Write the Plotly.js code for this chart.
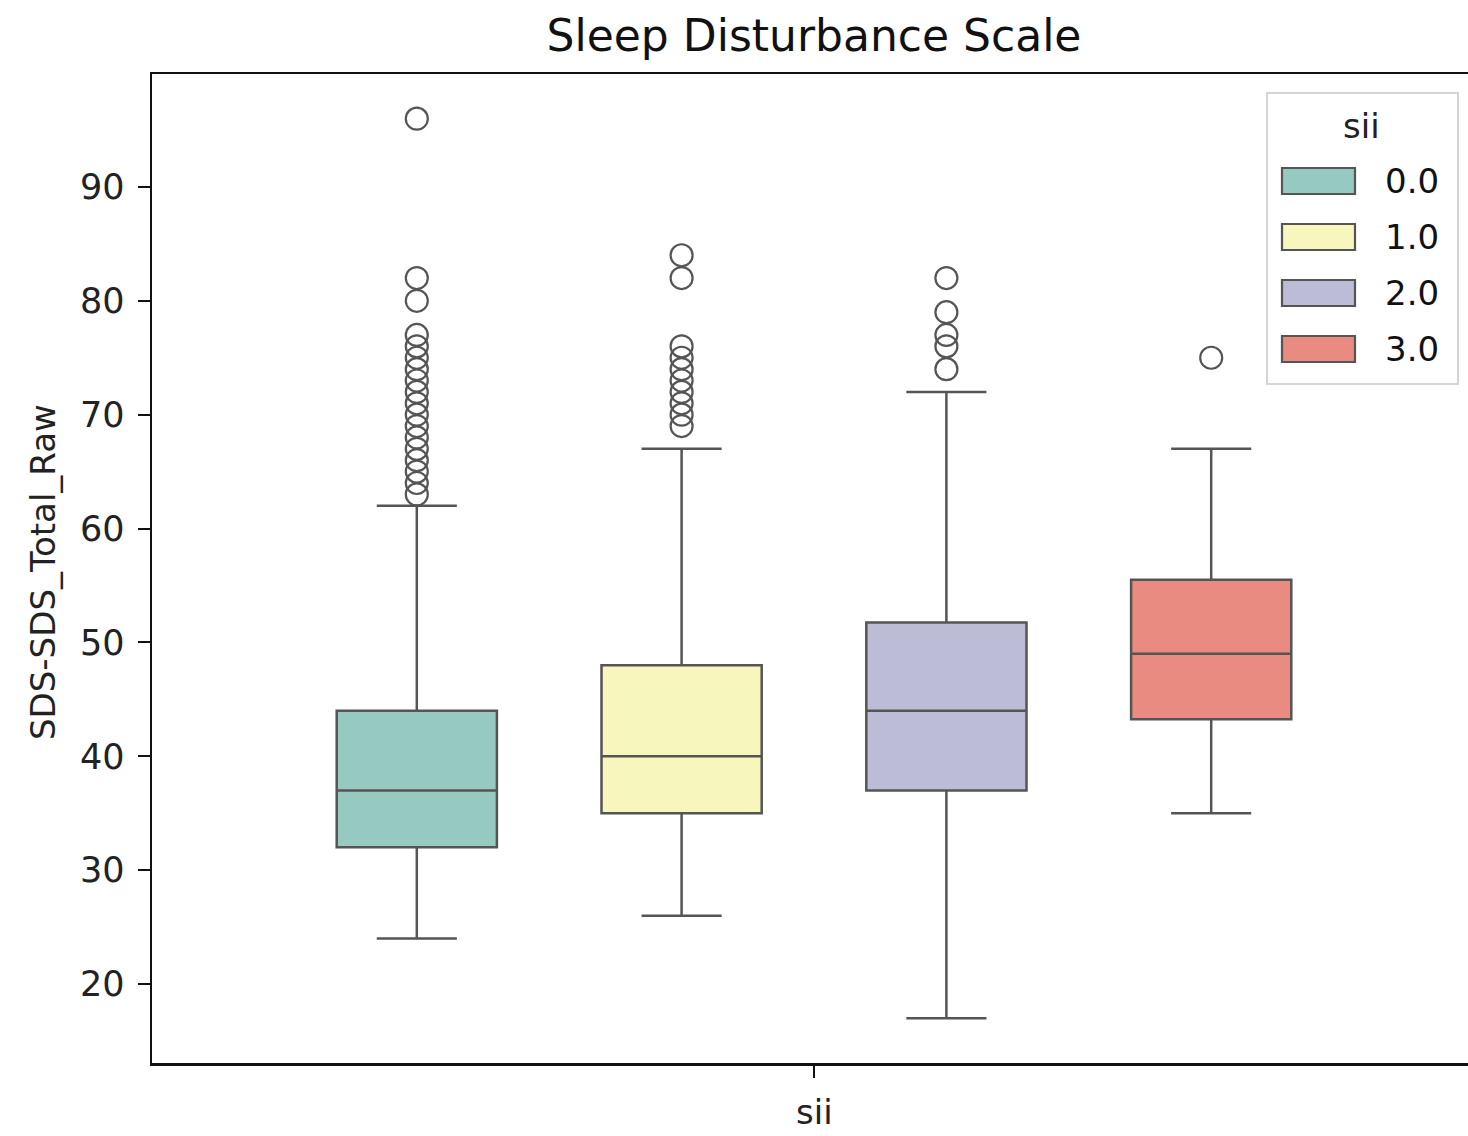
<!DOCTYPE html>
<html>
<head>
<meta charset="utf-8">
<script src="https://cdn.plot.ly/plotly-3.0.1.min.js"></script>
<style>html,body{margin:0;padding:0;background:#fff;}#chart{width:1468px;height:1136px;}</style>
</head>
<body>
<div id="chart"></div>
<script>
const hueLabels = ['0.0', '1.0', '2.0', '3.0'];
const q1Vals = [32, 35, 37, 43.25];
const medianVals = [37, 40, 44, 49];
const q3Vals = [44, 48, 51.75, 55.5];
const lowerWhisker = [24, 26, 17, 35];
const upperWhisker = [62, 67, 72, 67];
const outliers0 = [63, 64, 65, 66, 67, 68, 69, 70, 71, 72, 73, 74, 75, 76, 77, 80, 82, 96];
const outliers1 = [69, 70, 71, 72, 73, 74, 75, 76, 82, 84];
const outliers2 = [74, 76, 77, 79, 82];
const outliers3 = [75];
const outlierSets = [outliers0, outliers1, outliers2, outliers3];
const fillColors = ['#96cac1', '#f6f6bd', '#bdbcd6', '#e98b80'];

const W = 1468, H = 1136;
const L = 152, T = 74, R = 1468, B = 1063;
const px = x => (x - L) / (R - L);
const py = y => (B - y) / (B - T);

const edge = '#555555';
const nH = hueLabels.length;
const span = 0.8;
const step = span / nH;
const boxW = 0.121;
const traces = [];
hueLabels.forEach((lab, i) => {
  const pos = -span / 2 + step * (i + 0.5);
  traces.push({
    type: 'box', name: lab, x: [pos],
    q1: [q1Vals[i]], median: [medianVals[i]], q3: [q3Vals[i]],
    lowerfence: [lowerWhisker[i]], upperfence: [upperWhisker[i]],
    width: boxW, whiskerwidth: 0.5, boxpoints: false,
    fillcolor: fillColors[i], line: {color: edge, width: 2.5},
    hoverinfo: 'y', showlegend: false
  });
});
outlierSets.forEach((vals, i) => {
  const pos = -span / 2 + step * (i + 0.5);
  traces.push({
    type: 'scatter', mode: 'markers', x: vals.map(() => pos), y: vals,
    marker: {symbol: 'circle-open', size: 22, color: edge, line: {width: 2.2}},
    showlegend: false, hoverinfo: 'y'
  });
});

const fam = 'DejaVu Sans, sans-serif';
// custom legend (matplotlib-style wide patches)
const shapes = [{
  type: 'rect', xref: 'paper', yref: 'paper', x0: px(1267), x1: px(1458), y0: py(384), y1: py(93),
  line: {color: '#d4d4d4', width: 2}, fillcolor: 'rgba(255,255,255,0.85)', layer: 'above'
}];
const annotations = [{
  xref: 'paper', yref: 'paper', x: px(1361), y: py(126), text: 'sii', showarrow: false,
  xanchor: 'center', yanchor: 'middle', font: {size: 34, family: fam, color: '#222'}
}];
hueLabels.forEach((lab, i) => {
  const cy = 181 + 56 * i;
  shapes.push({
    type: 'rect', xref: 'paper', yref: 'paper', x0: px(1282), x1: px(1355), y0: py(cy + 13), y1: py(cy - 13),
    line: {color: edge, width: 2.2}, fillcolor: fillColors[i], layer: 'above'
  });
  annotations.push({
    xref: 'paper', yref: 'paper', x: px(1383), y: py(cy), text: lab, showarrow: false,
    xanchor: 'left', yanchor: 'middle', font: {size: 34, family: fam, color: '#111'}
  });
});
// axis titles
annotations.push({
  xref: 'x', yref: 'paper', x: 0, y: py(1112), text: 'sii', showarrow: false, borderpad: 0,
  xanchor: 'center', yanchor: 'middle', font: {size: 34, family: fam, color: '#222'}
});
annotations.push({
  xref: 'paper', yref: 'paper', x: px(43), y: py(572), text: 'SDS-SDS_Total_Raw', showarrow: false,
  textangle: -90, xanchor: 'center', yanchor: 'middle', font: {size: 34, family: fam, color: '#222'}
});

const layout = {
  width: W, height: H,
  margin: {l: L, r: W - R, t: T, b: H - B},
  paper_bgcolor: '#fff', plot_bgcolor: '#fff',
  font: {size: 30, family: fam, color: '#000'},
  title: {text: 'Sleep Disturbance Scale', font: {size: 44, family: fam, color: '#111'},
          x: 814 / W, xref: 'container', xanchor: 'center', y: 1 - 36 / H, yref: 'container', yanchor: 'middle'},
  boxmode: 'overlay',
  showlegend: false,
  shapes: shapes,
  annotations: annotations,
  xaxis: {
    range: [-0.5, -0.5 + (R - L) / 1324], tickvals: [0], ticktext: [''],
    showgrid: false, zeroline: false, showline: true, linecolor: '#111', linewidth: 2.5, mirror: true,
    ticks: 'outside', ticklen: 12, tickwidth: 2, tickcolor: '#111'
  },
  yaxis: {
    range: [13.06, 99.92], tickvals: [20, 30, 40, 50, 60, 70, 80, 90],
    showgrid: false, zeroline: false, showline: true, linecolor: '#111', linewidth: 2.5, mirror: false,
    ticks: 'outside', ticklen: 12, tickwidth: 2, tickcolor: '#111', ticklabelstandoff: 6,
    tickfont: {size: 35, family: fam, color: '#222'}
  }
};
Plotly.newPlot('chart', traces, layout, {displayModeBar: false, staticPlot: true});
</script>
</body>
</html>
